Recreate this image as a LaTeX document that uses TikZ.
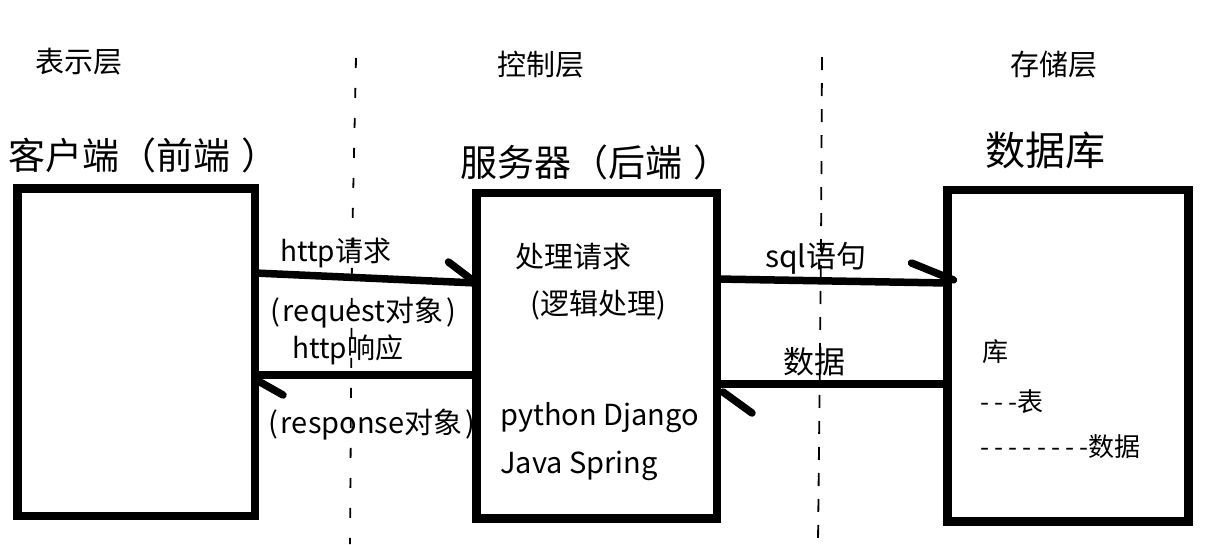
\documentclass[tikz,border=0pt]{standalone}
\usepackage{fontspec}
\setmainfont{Noto Sans CJK SC}[Ligatures=TeXOff]
\newfontfamily\dashfont{Noto Sans CJK SC}[Ligatures=TeXOff, LetterSpace=20]
\begin{document}
\begin{tikzpicture}[x=1pt, y=-1pt,
  box/.style={draw, line width=8.5pt, outer sep=0pt, inner sep=0pt},
  flow/.style={line width=7.5pt, line cap=round},
  lane/.style={line width=1.8pt},
  txt/.style={anchor=west, inner sep=0pt, font=\fontsize{#1}{#1}\selectfont},
  txt/.default=28]
  \useasboundingbox (0,0) rectangle (1205,544);
  % layer borders
  \draw[lane, dash pattern=on 10pt off 20pt] (356,58) -- (352,250) -- (350,544);
  \draw[lane, dash pattern=on 13pt off 13pt] (822,57) -- (821,250) -- (818,544);
  % layer names
  \node[txt=29] (showlayer) at (35,62) {表示层};
  \node[txt=29] (ctrllayer) at (497,65) {控制层};
  \node[txt=29] (storelayer) at (1010,65) {存储层};
  % titles
  \node[txt=37] (clienttitle) at (8,155) {客户端（前端\kern0.3em）};
  \node[txt=37] (servertitle) at (460,162) {服务器（后端\kern0.3em）};
  \node[txt=40] (dbtitle) at (985,150) {数据库};
  % connector labels
  \node[txt] (reqlabel) at (280,253) {http请求};
  \node[txt=29] (reqobj) at (270,313) {(\kern3pt request对象\kern3pt)};
  \node[txt] (resplabel) at (292,350) {http响应};
  \node[txt=29] (respobj) at (268,425) {(\kern3pt response对象\kern3pt)};
  \node[txt=30] (sqllabel) at (765,258) {sql语句};
  \node[txt=31] (datalabel) at (783,362) {数据};
  % boxes
  \node[box, minimum width=237.5pt, minimum height=327.5pt] (client) at (136.25,352.25) {};
  \node[box, minimum width=240.5pt, minimum height=325.5pt] (server) at (596.75,355.75) {};
  \node[box, minimum width=241pt, minimum height=331.5pt] (db) at (1068,355.75) {};
  % box contents
  \node[txt=29] (handle) at (515,257) {处理请求};
  \node[txt=29] (logic) at (530,305) {(逻辑处理)};
  \node[txt=29] (django) at (500,418) {python Django};
  \node[txt=29] (spring) at (500,466) {Java Spring};
  \node[txt=26] (lib) at (982,352) {库};
  \node[txt=26] (table) at (980,402) {{\dashfont ---}表};
  \node[txt=26] (rows) at (980,447) {{\dashfont --------}数据};
  % connectors
  \draw[flow] (client.east |- 0,273) -- (server.west |- 0,283) coordinate (reqtip);
  \draw[flow] ([shift={(-3,-2)}]reqtip) -- ++(-25,-19);
  \draw[flow] (server.west |- 0,375) -- (client.east |- 0,375) coordinate (resptip);
  \draw[flow] ([shift={(5,7)}]resptip) -- ++(23,13);
  \draw[flow] (server.east |- 0,279) -- (db.west |- 0,283) coordinate (sqltip);
  \draw[flow] ([shift={(6,-3)}]sqltip) -- ++(-42,-17);
  \draw[flow] (db.west |- 0,384) -- (server.east |- 0,384) coordinate (datatip);
  \draw[flow] ([shift={(6,8)}]datatip) -- ++(29,21);
\end{tikzpicture}
\end{document}
